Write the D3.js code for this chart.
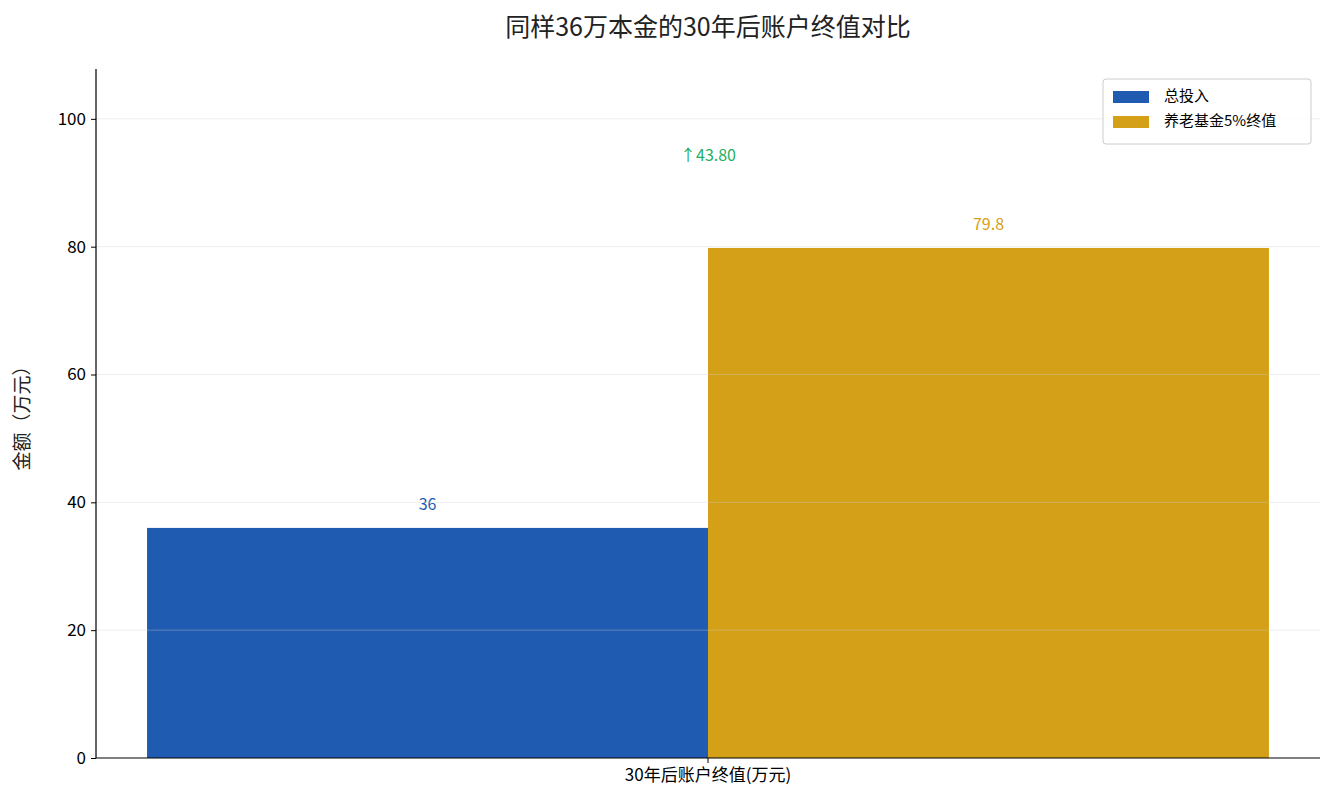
<!DOCTYPE html>
<html><head><meta charset="utf-8">
<script src="https://cdn.jsdelivr.net/npm/d3@7"></script>
<style>body{margin:0;background:#fff;font-family:"Noto Sans CJK SC","Noto Sans",sans-serif;}</style>
</head><body><svg id="c" width="1335" height="810"></svg>
<script>
const categories = ["30年后账户终值(万元)"];
const seriesNames = ["总投入", "养老基金5%终值"];
const totalInput = [36];
const fundValue = [79.8];
const yTicks = [0, 20, 40, 60, 80, 100];
const diffLabel = "↑43.80";
const colors = ["#1f5bb0", "#d4a017"];

const svg = d3.select("#c");
const m = {l:96, r:1320, t:69, b:758};
const y = d3.scaleLinear().domain([0, 107.8]).range([m.b, m.t]);
const x0 = d3.scaleBand().domain(categories).range([m.l, m.r]).paddingInner(0).paddingOuter(0.0455);
const x1 = d3.scaleBand().domain(seriesNames).range([0, x0.bandwidth()]);
const vals = [totalInput, fundValue];

const g = svg.append("g");
categories.forEach((c, ci) => {
  seriesNames.forEach((s, si) => {
    const v = vals[si][ci];
    g.append("rect").attr("x", x0(c) + x1(s)).attr("width", x1.bandwidth())
      .attr("y", y(v)).attr("height", y(0) - y(v)).attr("fill", colors[si]);
    g.append("text").attr("x", x0(c) + x1(s) + x1.bandwidth()/2).attr("y", y(v + 3.5))
      .attr("text-anchor", "middle").attr("font-size", 16).attr("fill", colors[si])
      .attr("dominant-baseline", "middle").text(v);
  });
  const top = d3.max(vals, a => a[ci]);
  g.append("text").attr("x", x0(c) + x0.bandwidth()/2).attr("y", y(top + 14.3))
    .attr("text-anchor", "middle").attr("dominant-baseline", "middle")
    .attr("font-size", 16).attr("fill", "#27ae60").text(diffLabel);
});
// grid on top
yTicks.forEach(t => {
  if (t === 0) return;
  svg.append("line").attr("x1", m.l).attr("x2", m.r).attr("y1", y(t)).attr("y2", y(t))
    .attr("stroke", "#cccccc").attr("stroke-opacity", 0.45).attr("stroke-width", 0.8);
});
const ya = svg.append("g").attr("transform", `translate(${m.l},0)`)
  .call(d3.axisLeft(y).tickValues(yTicks).tickSize(5).tickPadding(5));
ya.select(".domain").attr("d", `M0,${m.t}V${m.b}`).attr("stroke", "#000").attr("stroke-width", 1.2);
const xa = svg.append("g").attr("transform", `translate(0,${m.b})`)
  .call(d3.axisBottom(x0).tickSize(5).tickPadding(6));
xa.select(".domain").attr("d", `M${m.l},0H${m.r}`).attr("stroke", "#000").attr("stroke-width", 1.2);
svg.selectAll(".tick text").attr("font-size", 17).attr("fill", "#000")
  .attr("font-family", '"Noto Sans CJK SC","Noto Sans",sans-serif');

svg.append("text").attr("x", 708).attr("y", 29).attr("text-anchor", "middle")
  .attr("dominant-baseline", "middle").attr("font-size", 25).attr("fill", "#222")
  .text("同样36万本金的30年后账户终值对比");
svg.append("text").attr("transform", `translate(24,${(m.t+m.b)/2}) rotate(-90)`)
  .attr("text-anchor", "middle").attr("dominant-baseline", "middle")
  .attr("font-size", 19).attr("fill", "#222").text("金额（万元）");

const lg = svg.append("g").attr("transform", "translate(1103,79)");
lg.append("rect").attr("width", 208).attr("height", 65).attr("rx", 3)
  .attr("fill", "#fff").attr("fill-opacity", 0.85).attr("stroke", "#ccc");
seriesNames.forEach((s, i) => {
  lg.append("rect").attr("x", 10).attr("y", 12 + i*25).attr("width", 36).attr("height", 12).attr("fill", colors[i]);
  lg.append("text").attr("x", 61).attr("y", 18 + i*25).attr("dominant-baseline", "middle")
    .attr("font-size", 15).attr("fill", "#000").text(s);
});
</script></body></html>
